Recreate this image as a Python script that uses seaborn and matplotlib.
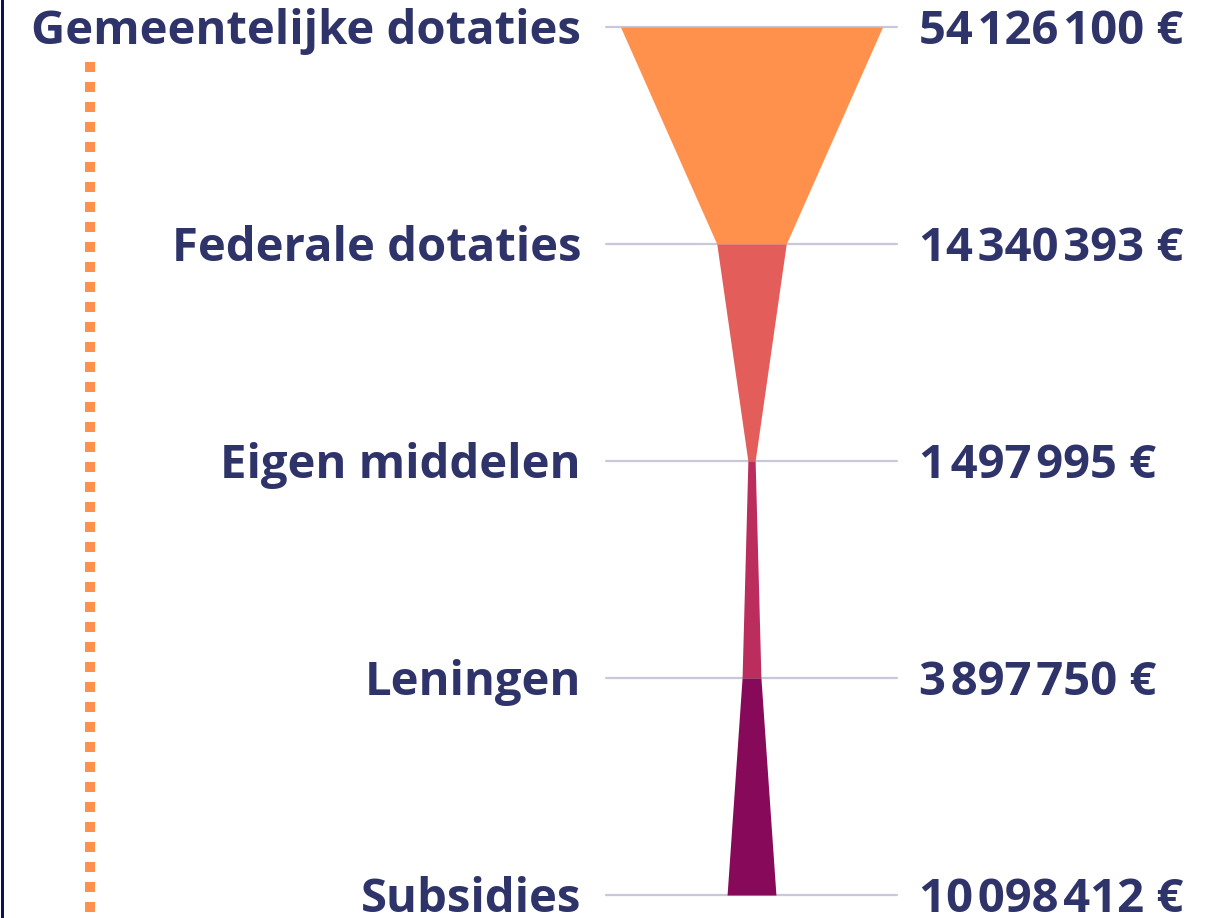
import matplotlib
matplotlib.use("Agg")
import matplotlib.pyplot as plt
import seaborn as sns
from matplotlib.lines import Line2D

# data
categories = ["Gemeentelijke dotaties", "Federale dotaties", "Eigen middelen", "Leningen", "Subsidies"]
values = [54126100, 14340393, 1497995, 3897750, 10098412]
colors = ["#FF914D", "#E35D5B", "#BA2D5C", "#870A5A"]

navy = "#2E3369"
grid_col = "#C8C8DA"

sns.set_theme(style="white")
plt.rcParams["font.family"] = ["Open Sans", "DejaVu Sans"]

W, H, DPI = 1210, 918, 100
fig = plt.figure(figsize=(W / DPI, H / DPI), dpi=DPI)
ax = fig.add_axes([0, 0, 1, 1])

# pixel layout -> data units
cx = 751.5
top_y, step = 27, 217
k = 262 / values[0]  # px per euro for full width
ax.set_xlim(-cx / k, (W - cx) / k)
ax.set_ylim((H - top_y) / step, -top_y / step)
ax.axis("off")


def fmt(v):
    s = f"{v:,}".replace(",", "\u200a")
    return s + " €"


levels = list(range(len(values)))

# grid lines at each level
for i in levels:
    ax.axhline(i, xmin=606 / W, xmax=897 / W, color=grid_col, lw=1.6, zorder=1)

# funnel segments
for i in range(len(values) - 1):
    y = [i, i + 1]
    half = [values[i] / 2, values[i + 1] / 2]
    ax.fill_betweenx(y, [-h for h in half], half, color=colors[i], lw=0, zorder=2)

# labels
base = 17 / step
for i, (cat, v) in enumerate(zip(categories, values)):
    ax.text(581 / W, i + base, cat, transform=ax.get_yaxis_transform(), ha="right", va="baseline",
            fontsize=34, fontweight="bold", color=navy)
    ax.text(919 / W, i + base, fmt(v), transform=ax.get_yaxis_transform(), ha="left", va="baseline",
            fontsize=34, fontweight="bold", color=navy)

# left navy border and orange dotted line
fig.add_artist(Line2D([1.5 / W, 1.5 / W], [0, 1], color="#0B1250", lw=3 * 72 / DPI))
fig.add_artist(Line2D([90 / W, 90 / W], [1 - 62 / H, 0], color="#FF914D",
                      lw=10 * 72 / DPI, linestyle=(0, (1, 1)), dash_capstyle="butt"))

fig.savefig("out.png", dpi=DPI)
